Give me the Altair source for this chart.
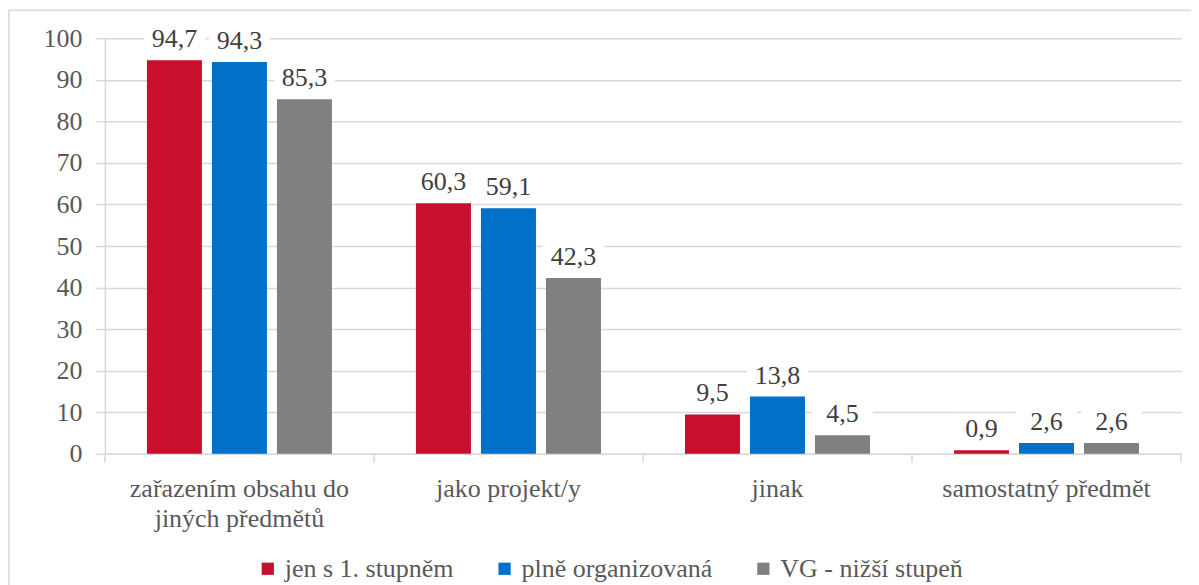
import altair as alt
import pandas as pd

categories = ["zařazením obsahu do jiných předmětů", "jako projekt/y", "jinak", "samostatný předmět"]
series = ["jen s 1. stupněm", "plně organizovaná", "VG - nižší stupeň"]
colors = ["#C80F2E", "#0070C8", "#808080"]
vals_1 = [94.7, 60.3, 9.5, 0.9]
vals_2 = [94.3, 59.1, 13.8, 2.6]
vals_3 = [85.3, 42.3, 4.5, 2.6]

rows = []
for s, vals in zip(series, [vals_1, vals_2, vals_3]):
    for c, v in zip(categories, vals):
        rows.append({"cat": c, "ser": s, "val": v, "lab": f"{v:.1f}".replace(".", ",")})
df = pd.DataFrame(rows)
cat_df = pd.DataFrame({"cat": categories})
one = pd.DataFrame({"a": [0]})

FONT = "Liberation Serif"
GRID = "#d9d9d9"
W, H = 1077, 416

xscale = alt.Scale(domain=categories, paddingInner=0, paddingOuter=0)
xoff = alt.XOffset("ser:N", sort=series, scale=alt.Scale(domain=series, paddingInner=0.154, paddingOuter=0.646))
x_enc = alt.X(
    "cat:N", sort=categories, scale=xscale, title=None,
    axis=alt.Axis(
        labelAngle=0, ticks=False, domainColor=GRID, domainWidth=1.5,
        labelFont=FONT, labelFontSize=26, labelColor="#595959",
        labelPadding=22, labelBaseline="top", labelLineHeight=30, labelLimit=400,
        labelExpr="datum.value == 'zařazením obsahu do jiných předmětů' ? ['zařazením obsahu do', 'jiných předmětů'] : datum.value",
    ),
)
y_enc = alt.Y(
    "val:Q", scale=alt.Scale(domain=[0, 100], nice=False), title=None,
    axis=alt.Axis(
        values=list(range(0, 101, 10)), grid=True, gridColor=GRID, gridWidth=1.5,
        domainColor=GRID, domainWidth=1.5, tickColor=GRID, tickSize=9, tickWidth=1.5,
        labelFont=FONT, labelFontSize=26, labelColor="#595959", labelPadding=14,
    ),
)
color_enc = alt.Color(
    "ser:N", sort=series, scale=alt.Scale(domain=series, range=colors),
    legend=alt.Legend(
        orient="none", legendX=150, legendY=518, direction="horizontal", title=None,
        symbolType="square", symbolSize=150, symbolStrokeWidth=0, symbolOpacity=1,
        labelFont=FONT, labelFontSize=26, labelColor="#595959", labelOffset=4,
        columnPadding=38, labelLimit=400,
    ),
)

border = alt.Chart(one).mark_rect(filled=False, stroke=GRID, strokeWidth=1.5).encode(
    x=alt.value(-96), x2=alt.value(1300), y=alt.value(-28), y2=alt.value(700)
)

bars = alt.Chart(df).mark_bar().encode(x=x_enc, xOffset=xoff, y=y_enc, color=color_enc)

boxes = alt.Chart(df).mark_point(
    shape="M-1,-0.45L1,-0.45L1,0.45L-1,0.45Z", filled=True, fill="white", opacity=1, strokeWidth=0, yOffset=-23
).encode(x=alt.X("cat:N", sort=categories), xOffset=xoff, y="val:Q", size=alt.value(3700))

texts = alt.Chart(df).mark_text(
    font=FONT, fontSize=26, color="#404040", baseline="alphabetic", dy=-13
).encode(x=alt.X("cat:N", sort=categories), xOffset=xoff, y="val:Q", text="lab:N")

xticks = alt.Chart(cat_df).mark_rule(color=GRID, strokeWidth=1.5).encode(
    x=alt.X("cat:N", sort=categories, bandPosition=0), y=alt.value(H), y2=alt.value(H + 9)
)
xtick_end = alt.Chart(one).mark_rule(color=GRID, strokeWidth=1.5).encode(
    x=alt.value(W), y=alt.value(H), y2=alt.value(H + 9)
)

chart = alt.layer(border, bars, boxes, texts, xticks, xtick_end).properties(
    width=W, height=H,
    autosize=alt.AutoSizeParams(type="none"),
    padding={"left": 97, "top": 30, "right": 10, "bottom": 131},
).configure(font=FONT).configure_view(stroke=None)

chart.save("out.html", embed_options={"renderer": "svg", "actions": False})
